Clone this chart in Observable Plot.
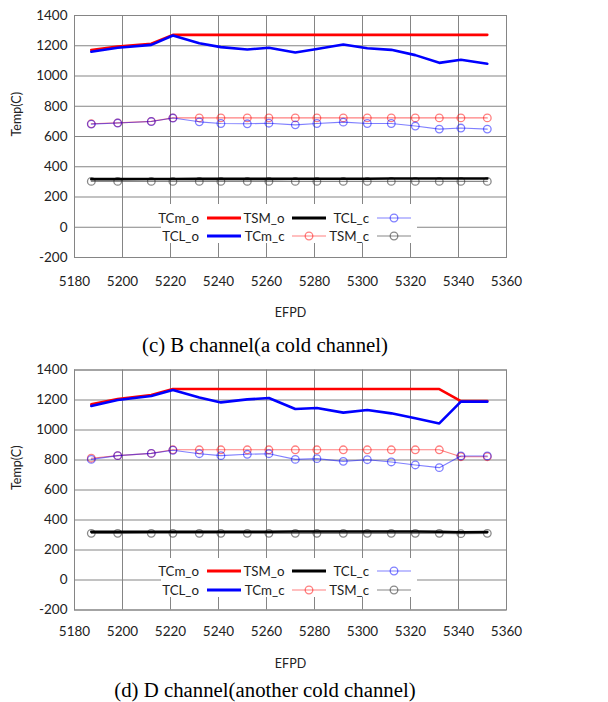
<!DOCTYPE html>
<html><head><meta charset="utf-8">
<script src="https://cdn.jsdelivr.net/npm/d3@7"></script>
<script src="https://cdn.jsdelivr.net/npm/@observablehq/plot@0.6"></script>
<style>
body{margin:0;background:#fff;}
.fig{position:relative;width:608px;}
.fig svg{display:block;}
.cap{font-family:"Liberation Serif","Times New Roman",serif;font-size:20.8px;color:#000;width:530px;text-align:center;height:24px;line-height:24px;}
.lbox{position:absolute;background:#fff;}
.ltxt{position:absolute;width:100px;text-align:right;font-family:Lato,sans-serif;font-size:13.3px;color:#222;height:18px;line-height:18px;white-space:nowrap;}
.lsw{position:absolute;}
</style></head><body>
<div id="root"></div>
<script>
// ---- shared axes / categories ----
const efpd = [5187, 5198, 5212, 5221, 5232, 5241, 5252, 5261, 5272, 5281, 5292, 5302, 5312, 5322, 5332, 5341, 5352];
const xTicks = [5180, 5200, 5220, 5240, 5260, 5280, 5300, 5320, 5340, 5360];
const yTicks = [-200, 0, 200, 400, 600, 800, 1000, 1200, 1400];
const seriesNames = ["TCm_o", "TSM_o", "TCL_c", "TCL_o", "TCm_c", "TSM_c"];
const captions = ["(c) B channel(a cold channel)", "(d) D channel(another cold channel)"];

// ---- B channel ----
const B_TCm_o = [1171, 1195, 1213, 1272, 1272, 1272, 1272, 1272, 1272, 1272, 1272, 1272, 1272, 1272, 1272, 1272, 1272];
const B_TCL_o = [1160, 1187, 1206, 1268, 1217, 1191, 1175, 1187, 1155, 1178, 1208, 1183, 1173, 1138, 1087, 1107, 1081];
const B_TSM_o = [318, 318, 319, 319, 320, 320, 320, 320, 321, 321, 321, 321, 322, 322, 322, 322, 322];
const B_TCm_c = [684, 690, 700, 723, 723, 723, 723, 723, 723, 723, 723, 723, 723, 723, 723, 723, 723];
const B_TCL_c = [682, 689, 699, 722, 697, 686, 684, 688, 677, 686, 695, 686, 686, 669, 649, 656, 649];
const B_TSM_c = [303, 303, 303, 303, 303, 303, 303, 303, 303, 303, 303, 303, 303, 303, 303, 303, 303];

// ---- D channel ----
const D_TCm_o = [1171, 1207, 1233, 1273, 1273, 1273, 1273, 1273, 1273, 1273, 1273, 1273, 1273, 1273, 1273, 1193, 1193];
const D_TCL_o = [1160, 1200, 1227, 1267, 1216, 1184, 1204, 1213, 1140, 1147, 1116, 1133, 1111, 1078, 1044, 1189, 1189];
const D_TSM_o = [321, 321, 322, 322, 322, 322, 322, 322, 323, 323, 323, 323, 323, 323, 322, 318, 320];
const D_TCm_c = [812, 829, 844, 868, 868, 868, 868, 868, 868, 868, 868, 868, 868, 868, 868, 822, 822];
const D_TCL_c = [804, 829, 844, 865, 842, 829, 838, 842, 804, 809, 791, 802, 787, 767, 749, 827, 827];
const D_TSM_c = [311, 311, 311, 311, 311, 311, 311, 311, 311, 311, 311, 311, 311, 311, 311, 309, 311];

const styles = {
  TCm_o: {color: "#ff0000", kind: "thick"},
  TCL_o: {color: "#0000ff", kind: "thick"},
  TSM_o: {color: "#000000", kind: "thick"},
  TCm_c: {color: "#ff0000", kind: "thin", op: 0.5},
  TCL_c: {color: "#0000ff", kind: "thin", op: 0.5},
  TSM_c: {color: "#3a3a3a", kind: "thin", op: 0.6}
};

const gridColor = "#858585";

function makeFigure(series, dims) {
  const thin = (arr, st) => [
    Plot.line(efpd, {x: d => d, y: (d, i) => arr[i], stroke: st.color, strokeWidth: 1.1, strokeOpacity: st.op}),
    Plot.dot(efpd, {x: d => d, y: (d, i) => arr[i], r: 3.8, stroke: st.color, strokeWidth: 1.3, strokeOpacity: st.op, fill: "none"})
  ];
  const thick = (arr, st) => Plot.line(efpd, {x: d => d, y: (d, i) => arr[i], stroke: st.color, strokeWidth: 2.6});
  const svg = Plot.plot({
    width: 608, height: dims.h,
    marginLeft: 74, marginRight: 102, marginTop: dims.mt, marginBottom: dims.mb,
    style: {fontFamily: "Lato, sans-serif", fontSize: "13.5px", color: "#222", background: "#fff", overflow: "visible"},
    x: {domain: [5180, 5360]},
    y: {domain: [-200, 1400]},
    marks: [
      Plot.gridX(xTicks, {stroke: gridColor, strokeOpacity: 1}),
      Plot.gridY(yTicks, {stroke: gridColor, strokeOpacity: 1}),
      Plot.frame({stroke: gridColor}),
      ...thin(series.TSM_c, styles.TSM_c),
      ...thin(series.TCm_c, styles.TCm_c),
      ...thin(series.TCL_c, styles.TCL_c),
      thick(series.TCm_o, styles.TCm_o),
      thick(series.TCL_o, styles.TCL_o),
      thick(series.TSM_o, styles.TSM_o),
      Plot.axisX(xTicks, {tickSize: 0, tickPadding: dims.xpad, label: null, tickFormat: d => String(d)}),
      Plot.axisY(yTicks, {tickSize: 0, tickPadding: 7, label: null, tickFormat: d => String(d)}),
      Plot.text(["Temp(C)"], {text: d => d, frameAnchor: "left", rotate: -90, dx: -58, fontSize: 12.5, fill: "#222"}),
      Plot.text(["EFPD"], {text: d => d, frameAnchor: "bottom", dy: dims.xlab, fontSize: 12.5, fill: "#222"})
    ]
  });
  const fig = document.createElement("div");
  fig.className = "fig";
  fig.appendChild(svg);

  // legend (inside plot area, white box)
  const box = document.createElement("div");
  box.className = "lbox";
  Object.assign(box.style, {left: "161px", top: dims.boxTop + "px", width: "256px", height: dims.boxH + "px"});
  fig.appendChild(box);
  const textRight = [199, 284.5, 369];
  const swX = [207, 292, 377];
  const swW = 34;
  seriesNames.forEach((name, k) => {
    const col = k % 3, row = Math.floor(k / 3);
    const cy = dims.rows[row];
    const t = document.createElement("div");
    t.className = "ltxt";
    t.textContent = name;
    Object.assign(t.style, {left: (textRight[col] - 100) + "px", top: (cy - 9) + "px"});
    fig.appendChild(t);
    const st = styles[name];
    const ns = "http://www.w3.org/2000/svg";
    const s = document.createElementNS(ns, "svg");
    s.setAttribute("class", "lsw");
    s.setAttribute("width", swW);
    s.setAttribute("height", 12);
    s.style.left = swX[col] + "px";
    s.style.top = (cy - 6) + "px";
    const ln = document.createElementNS(ns, "line");
    ln.setAttribute("x1", 0); ln.setAttribute("x2", swW);
    ln.setAttribute("y1", 6); ln.setAttribute("y2", 6);
    ln.setAttribute("stroke", st.color);
    if (st.kind === "thick") {
      ln.setAttribute("stroke-width", 3);
      s.appendChild(ln);
    } else {
      ln.setAttribute("stroke-width", 1.1);
      ln.setAttribute("stroke-opacity", st.op);
      s.appendChild(ln);
      const c = document.createElementNS(ns, "circle");
      c.setAttribute("cx", swW / 2); c.setAttribute("cy", 6); c.setAttribute("r", 3.8);
      c.setAttribute("fill", "none"); c.setAttribute("stroke", st.color);
      c.setAttribute("stroke-width", 1.3); c.setAttribute("stroke-opacity", st.op);
      s.appendChild(c);
    }
    fig.appendChild(s);
  });

  const cap = document.createElement("div");
  cap.className = "cap";
  cap.textContent = dims.caption;
  cap.style.marginTop = dims.capGap + "px";
  const wrap = document.createElement("div");
  wrap.appendChild(fig);
  wrap.appendChild(cap);
  return wrap;
}

const root = document.getElementById("root");
root.appendChild(makeFigure(
  {TCm_o: B_TCm_o, TCL_o: B_TCL_o, TSM_o: B_TSM_o, TCm_c: B_TCm_c, TCL_c: B_TCL_c, TSM_c: B_TSM_c},
  {h: 333, mt: 15, mb: 76, xpad: 18.5, xlab: 59.5, boxTop: 204, boxH: 39, rows: [217.6, 235.8], caption: captions[0], capGap: 0}
));
root.appendChild(makeFigure(
  {TCm_o: D_TCm_o, TCL_o: D_TCL_o, TSM_o: D_TSM_o, TCm_c: D_TCm_c, TCL_c: D_TCL_c, TSM_c: D_TSM_c},
  {h: 321, mt: 12.5, mb: 68.5, xpad: 16.5, xlab: 58, boxTop: 200.7, boxH: 39, rows: [214.3, 232.5], caption: captions[1], capGap: 0}
));
</script>
</body></html>
